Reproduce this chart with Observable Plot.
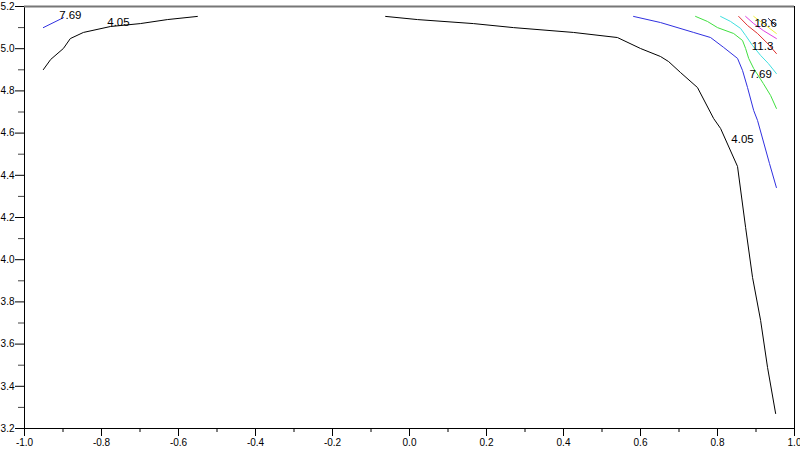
<!DOCTYPE html>
<html>
<head>
<meta charset="utf-8">
<script src="https://cdn.jsdelivr.net/npm/d3@7"></script>
<script src="https://cdn.jsdelivr.net/npm/@observablehq/plot@0.6"></script>
<style>
  html, body { margin: 0; padding: 0; background: #fff; }
  #chart svg { display: block; background: linear-gradient(to bottom, #eeeeee 0px, #eeeeee 4px, #ffffff 4px, #ffffff 446px, #eeeeee 446px); }
</style>
</head>
<body>
<div id="chart"></div>
<script>
// Tick values
const xTicks = [-1.0, -0.8, -0.6, -0.4, -0.2, 0.0, 0.2, 0.4, 0.6, 0.8, 1.0];
const xMinorTicks = [-0.9, -0.7, -0.5, -0.3, -0.1, 0.1, 0.3, 0.5, 0.7, 0.9];
const yTicks = [3.2, 3.4, 3.6, 3.8, 4.0, 4.2, 4.4, 4.6, 4.8, 5.0, 5.2];
const yMinorTicks = [3.3, 3.5, 3.7, 3.9, 4.1, 4.3, 4.5, 4.7, 4.9, 5.1];

// Contour lines [x, y]
const black405Left = [[-0.951,4.901],[-0.932,4.949],[-0.899,5.001],[-0.881,5.048],[-0.847,5.077],[-0.777,5.105],[-0.699,5.119],[-0.629,5.138],[-0.551,5.153]];
const blue769Left = [[-0.951,5.100],[-0.899,5.147]];
const black405Right = [[-0.062,5.153],[0.021,5.138],[0.166,5.119],[0.270,5.100],[0.426,5.077],[0.540,5.053],[0.600,5.001],[0.652,4.963],[0.673,4.939],[0.704,4.887],[0.748,4.816],[0.790,4.669],[0.808,4.622],[0.852,4.442],[0.873,4.153],[0.891,3.916],[0.912,3.712],[0.930,3.489],[0.951,3.271]];
const blue769Right = [[0.582,5.153],[0.652,5.124],[0.738,5.077],[0.782,5.053],[0.816,5.006],[0.852,4.954],[0.865,4.897],[0.878,4.816],[0.894,4.707],[0.904,4.660],[0.935,4.456],[0.953,4.342]];
const greenLine = [[0.743,5.153],[0.774,5.129],[0.800,5.100],[0.842,5.072],[0.865,5.039],[0.873,5.001],[0.881,4.954],[0.894,4.906],[0.919,4.835],[0.938,4.778],[0.953,4.717]];
const cyanLine = [[0.808,5.153],[0.834,5.129],[0.860,5.096],[0.873,5.063],[0.891,5.015],[0.912,4.968],[0.932,4.930],[0.953,4.882]];
const redLine = [[0.855,5.153],[0.878,5.110],[0.904,5.072],[0.930,5.025],[0.953,4.977]];
const magentaLine = [[0.873,5.153],[0.894,5.119],[0.919,5.086],[0.953,5.048]];
const yellowLine = [[0.894,5.153],[0.919,5.119],[0.953,5.072]];
const navyLine = [[0.932,5.143],[0.951,5.110]];

// Contour labels
const labelText = ["7.69", "4.05", "4.05", "7.69", "11.3", "18.6"];
const labelX = [-0.881, -0.756, 0.865, 0.912, 0.917, 0.925];
const labelY = [5.157, 5.124, 4.570, 4.878, 5.010, 5.119];
const labels = labelText.map((t, i) => ({t, x: labelX[i], y: labelY[i]}));

const lines = [
  [black405Left, "#000000"],
  [blue769Left, "#3030e0"],
  [black405Right, "#000000"],
  [blue769Right, "#3030e0"],
  [greenLine, "#40e040"],
  [cyanLine, "#40e0e0"],
  [redLine, "#e03030"],
  [magentaLine, "#e040e0"],
  [yellowLine, "#f0f040"],
  [navyLine, "#202060"]
];

const fmt = d => d.toFixed(1);

const chart = Plot.plot({
  width: 800,
  height: 450,
  marginLeft: 24,
  marginRight: 6,
  marginTop: 6,
  marginBottom: 22,
  style: {fontFamily: "'Liberation Sans', Arial, sans-serif", fontSize: "10px", background: "transparent"},
  x: {domain: [-1, 1], label: null},
  y: {domain: [3.2, 5.2], label: null},
  marks: [
    Plot.axisX({ticks: xMinorTicks, tickSize: 4, tickFormat: () => "", stroke: "#000", label: null}),
    Plot.axisX({ticks: xTicks, tickSize: 8, tickPadding: 2, tickFormat: fmt, stroke: "#000", fill: "#000", fontSize: 10, label: null}),
    Plot.axisY({ticks: yMinorTicks, tickSize: 6, tickFormat: () => "", stroke: "#444", label: null}),
    Plot.axisY({ticks: yTicks, tickSize: 9, tickPadding: 1, tickFormat: fmt, stroke: "#000", fill: "#000", fontSize: 10, label: null}),
    ...lines.map(([data, color]) => Plot.line(data, {x: d => d[0], y: d => d[1], stroke: color, strokeWidth: 1})),
    Plot.ruleX([-1], {stroke: "#000", strokeWidth: 1}),
    Plot.ruleY([3.2], {stroke: "#000", strokeWidth: 1}),
    Plot.ruleY([5.2], {stroke: "#777", strokeWidth: 2}),
    Plot.ruleX([1], {stroke: "#000", strokeWidth: 1}),
    Plot.text(labels, {x: "x", y: "y", text: "t", fill: "#000", fontSize: 11.5, textAnchor: "middle"})
  ]
});
document.getElementById("chart").appendChild(chart);
</script>
</body>
</html>
